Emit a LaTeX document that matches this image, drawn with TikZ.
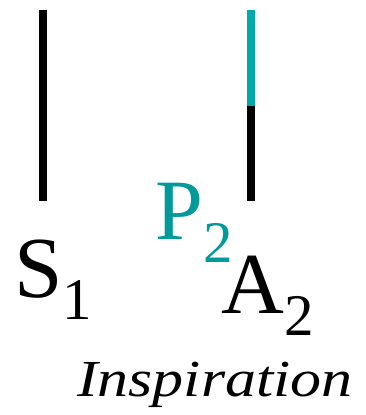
\documentclass[tikz,border=0pt]{standalone}
\usepackage{fontspec}
\setmainfont{Liberation Serif}
\newfontfamily\tnr{Liberation Serif}
\definecolor{barteal}{HTML}{00A9AC}
\definecolor{textteal}{HTML}{009A9A}
\begin{document}
\begin{tikzpicture}[x=1pt,y=-1pt,
  bar/.style={line width=8pt, line cap=butt},
  lbl/.style={anchor=base west, inner sep=0pt, outer sep=0pt, font=\tnr}]
\useasboundingbox (0,0) rectangle (366,415);
\coordinate (l1) at (43,10);
\coordinate (l2) at (43,201);
\draw[bar, black] (l1) -- (l2);
\coordinate (r1) at (251,10);
\coordinate (rm) at (251,106);
\coordinate (r2) at (251,201);
\draw[bar, barteal] (r1) -- (rm);
\draw[bar, black] (rm) -- (r2);
\node[lbl] (s1) at (14.5,297) {\tnr\fontsize{87}{87}\selectfont S\raisebox{-22pt}{\tnr\fontsize{59}{59}\selectfont 1}};
\node[lbl, text=textteal] (p2) at (155.6,239) {\tnr\fontsize{86}{86}\selectfont P\raisebox{-23pt}{\tnr\fontsize{59}{59}\selectfont 2}};
\node[lbl] (a2) at (221.7,313) {\tnr\fontsize{87}{87}\selectfont A\raisebox{-22pt}{\tnr\fontsize{59}{59}\selectfont 2}};
\node[lbl] (insp) at (77,396) {\scalebox{1.24}[1.04]{\tnr\fontsize{50}{50}\selectfont\itshape Inspiration}};
\end{tikzpicture}
\end{document}
